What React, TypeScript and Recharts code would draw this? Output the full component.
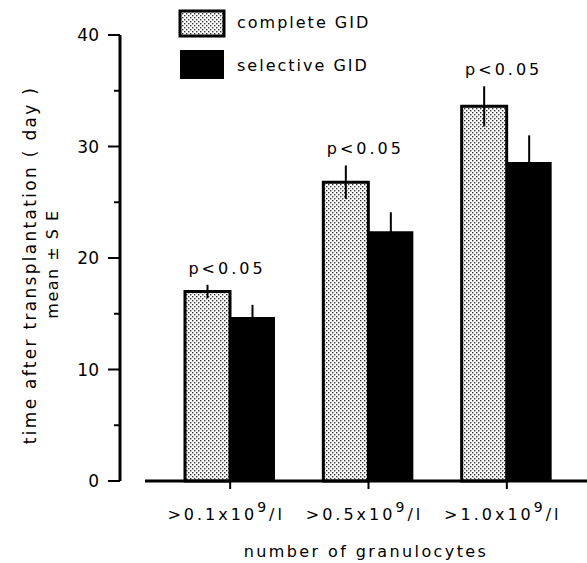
import { ComposedChart, Bar, XAxis, YAxis, ErrorBar, LabelList, Legend, Label } from 'recharts';

const categories = ['0.1', '0.5', '1.0'];
const completeMean = [17.0, 26.8, 33.6];
const completeSE = [0.6, 1.5, 1.8];
const selectiveMean = [14.7, 22.4, 28.6];
const selectiveSE = [1.1, 1.7, 2.4];
const significance = ['p<0.05', 'p<0.05', 'p<0.05'];
const seriesNames = ['complete GID', 'selective GID'];
const yTicks = [0, 5, 10, 15, 20, 25, 30, 35, 40];

const data = categories.map((c, i) => ({
  category: c,
  complete: completeMean[i],
  completeErr: completeSE[i],
  selective: selectiveMean[i],
  selectiveErr: selectiveSE[i],
}));

const font = '"DejaVu Sans", sans-serif';

const StippleDefs = ({ id }: { id: string }) => (
  <defs>
    <pattern id={id} width="4" height="4" patternUnits="userSpaceOnUse">
      <rect width="4" height="4" fill="#fff" />
      <rect x="0" y="0" width="1.4" height="1.4" fill="#333" />
      <rect x="2" y="2" width="1.4" height="1.4" fill="#333" />
    </pattern>
  </defs>
);

const YTick = (props: any) => {
  const { x, y, payload } = props;
  const major = payload.value % 10 === 0;
  return (
    <g>
      <line x1={x - (major ? 12 : 6)} x2={x} y1={y} y2={y} stroke="#000" strokeWidth={2} />
      {major && (
        <text x={x - 21} y={y} dy={6} textAnchor="end" fontSize={17} fontFamily={font} fill="#000">
          {payload.value}
        </text>
      )}
    </g>
  );
};

const XTick = (props: any) => {
  const { x, y, payload } = props;
  return (
    <text x={x - 4} y={y + 31} textAnchor="middle" fontSize={16} fontFamily={font} fill="#000" letterSpacing={3}>
      {'>' + payload.value + 'x10'}
      <tspan dy={-8} fontSize={14}>9</tspan>
      <tspan dy={8}>/l</tspan>
    </text>
  );
};

const PLabel = (props: any) => {
  const { x, y, width, height, index } = props;
  const perUnit = height / completeMean[index];
  const top = y - completeSE[index] * perUnit;
  return (
    <text x={x + width - 3} y={top - 11} textAnchor="middle" fontSize={16} fontFamily={font} fill="#000" letterSpacing={3}>
      {significance[index]}
    </text>
  );
};

const YTitle = () => (
  <g fontFamily={font} fill="#000">
    <text x={30} y={265} fontSize={17} letterSpacing={2.3} textAnchor="middle" dominantBaseline="central" transform="rotate(-90 30 265)">
      time after transplantation ( day )
    </text>
    <text x={52} y={264} fontSize={16} letterSpacing={1.5} textAnchor="middle" dominantBaseline="central" transform="rotate(-90 52 264)">
      mean ± S E
    </text>
  </g>
);

const LegendBox = () => (
  <svg width={260} height={80} style={{ display: 'block' }}>
    <StippleDefs id="stipple-legend" />
    <rect x={10} y={6} width={44} height={25} fill="url(#stipple-legend)" stroke="#000" strokeWidth={3} />
    <rect x={10} y={45} width={44} height={29} fill="#000" />
    <g fontFamily={font} fontSize={16} fill="#000" letterSpacing={2}>
      <text x={67} y={23}>{seriesNames[0]}</text>
      <text x={67} y={66}>{seriesNames[1]}</text>
    </g>
  </svg>
);

export default function App() {
  return (
    <div style={{ position: 'absolute', left: 0, top: 0, width: 587, height: 563, background: '#fff' }}>
      <ComposedChart
        width={587}
        height={563}
        data={data}
        margin={{ top: 35, right: 0, bottom: 2, left: 50 }}
        barGap={0}
      >
        <StippleDefs id="stipple" />
        <YAxis
          yAxisId="spacer"
          domain={[0, 40]}
          width={25}
          axisLine={false}
          tickLine={false}
          tick={false}
        />
        <YAxis
          yAxisId="y"
          domain={[0, 40]}
          ticks={yTicks}
          interval={0}
          width={70}
          axisLine={{ stroke: '#000', strokeWidth: 3 }}
          tickLine={false}
          tickSize={0}
          tickMargin={0}
          tick={<YTick />}
          label={<Label content={<YTitle />} />}
        />
        <XAxis
          dataKey="category"
          height={80}
          padding={{ left: 16, right: 11 }}
          axisLine={{ stroke: '#000', strokeWidth: 3 }}
          tickLine={{ stroke: '#000', strokeWidth: 2 }}
          tickSize={8}
          tickMargin={0}
          tick={<XTick />}
        >
          <Label
            value="number of granulocytes"
            position="insideBottom"
            offset={4}
            style={{ fontFamily: font, fontSize: 16, fill: '#000', letterSpacing: 2.4 }}
          />
        </XAxis>
        <Legend
          content={<LegendBox />}
          wrapperStyle={{ position: 'absolute', left: 170, top: 5, width: 0, height: 0 }}
        />
        <Bar
          yAxisId="y"
          dataKey="complete"
          name={seriesNames[0]}
          barSize={45}
          fill="url(#stipple)"
          stroke="#000"
          strokeWidth={3}
          isAnimationActive={false}
        >
          <ErrorBar dataKey="completeErr" width={0} stroke="#000" strokeWidth={2} />
          <LabelList dataKey="complete" content={<PLabel />} />
        </Bar>
        <Bar
          yAxisId="y"
          dataKey="selective"
          name={seriesNames[1]}
          barSize={45}
          fill="#000"
          isAnimationActive={false}
        >
          <ErrorBar dataKey="selectiveErr" width={0} stroke="#000" strokeWidth={2} />
        </Bar>
      </ComposedChart>
    </div>
  );
}
